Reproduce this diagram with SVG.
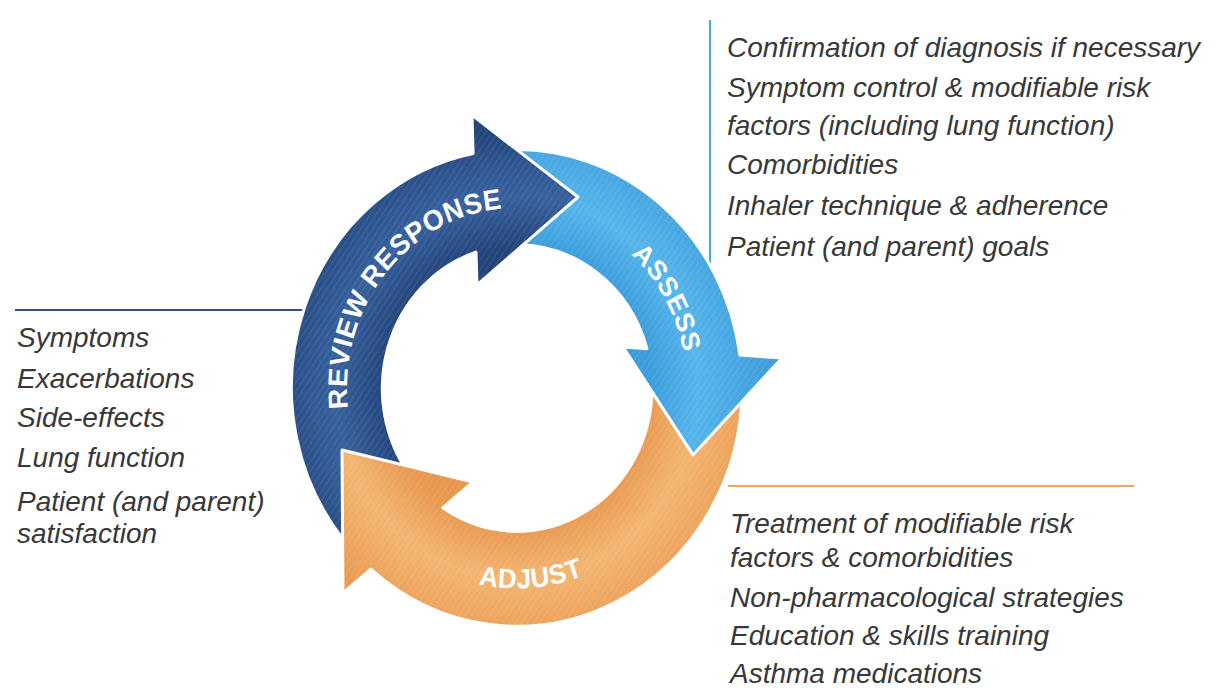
<svg xmlns="http://www.w3.org/2000/svg" xmlns:xlink="http://www.w3.org/1999/xlink" width="1217" height="691" viewBox="0 0 1217 691">
<style>
.note{font-family:"Liberation Sans",Arial,sans-serif;font-style:italic;font-size:28px;fill:#383838}
.lbl{font-family:"Liberation Sans",Arial,sans-serif;font-weight:bold;fill:#ffffff}
.arrow{stroke:#ffffff;stroke-width:3;stroke-linejoin:round}
.review{fill:url(#gReview)}
.assess{fill:url(#gAssess)}
.adjust{fill:url(#gAdjust)}
.tex{fill:url(#stripes)}
</style>
<defs>
<radialGradient id="gReview" gradientUnits="userSpaceOnUse" cx="0" cy="0" r="265">
<stop offset="0" stop-color="#1e3d6e"/>
<stop offset="0.5" stop-color="#22447a"/>
<stop offset="0.68" stop-color="#36609c"/>
<stop offset="0.8" stop-color="#2e5590"/>
<stop offset="0.9" stop-color="#234679"/>
<stop offset="1" stop-color="#1f3e70"/>
</radialGradient>
<radialGradient id="gAssess" gradientUnits="userSpaceOnUse" cx="0" cy="0" r="265">
<stop offset="0" stop-color="#3596d6"/>
<stop offset="0.5" stop-color="#3a9cdb"/>
<stop offset="0.68" stop-color="#55b5ea"/>
<stop offset="0.8" stop-color="#4aaae3"/>
<stop offset="1" stop-color="#3c98d8"/>
</radialGradient>
<radialGradient id="gAdjust" gradientUnits="userSpaceOnUse" cx="0" cy="0" r="265">
<stop offset="0" stop-color="#e49048"/>
<stop offset="0.5" stop-color="#e8994f"/>
<stop offset="0.68" stop-color="#f3b572"/>
<stop offset="0.8" stop-color="#efa862"/>
<stop offset="1" stop-color="#e59550"/>
</radialGradient>
<pattern id="stripes" patternUnits="userSpaceOnUse" width="5" height="5" patternTransform="rotate(35)">
<rect x="0" y="0" width="1.4" height="5" fill="#ffffff" fill-opacity="0.08"/>
</pattern>
<path id="shReview" d="M -172.4 144.6 A 225 225 0 0 1 -43.9 -221.4 L -45 -257.5 L 61 -180.2 L -40 -97.2 L -41 -128.1 A 135 135 0 0 0 -103.4 86.8 Z"/>
<path id="shAssess" d="M -7.85 -224.9 A 225 225 0 0 1 222.9 -31.1 L 265 -28.3 L 176 63.2 L 106 -38.7 L 129.9 -37.1 A 135 135 0 0 0 -4.7 -134.9 Z"/>
<path id="shAdjust" d="M 224.9 -7.85 A 225 225 0 0 1 -146.1 170.9 L -174 193.4 L -175 58.5 L -44 88.7 L -74.2 113 A 135 135 0 0 0 134.9 -4.7 Z"/>
<path id="tpReview" d="M -159.75 58.14 A 170 170 0 0 1 25.1 -168.1"/>
<path id="tpAssess" d="M 31 -167.2 A 170 170 0 0 1 159.2 59.5"/>
<path id="tpAdjust" d="M -64.6 177.6 A 189 189 0 0 0 91.6 165.3"/>
<clipPath id="clipHead" clipPathUnits="userSpaceOnUse">
<rect x="-270" y="40" width="240" height="260"/>
</clipPath>
</defs>
<rect x="0" y="0" width="1217" height="691" fill="#ffffff"/>
<g id="connectors" fill="none" stroke-width="2">
<line x1="15" y1="310" x2="312" y2="310" stroke="#2f4f80"/>
<line x1="710" y1="20" x2="710" y2="264" stroke="#4aa6d2"/>
<line x1="728" y1="486" x2="1134" y2="486" stroke="#eaa85f"/>
</g>
<g id="cycle" transform="translate(517,388) scale(1,1.06)">
<g id="node-adjust">
<use href="#shAdjust" class="arrow adjust"/>
<use href="#shAdjust" class="tex"/>
</g>
<g id="node-assess">
<use href="#shAssess" class="arrow assess"/>
<use href="#shAssess" class="tex"/>
<text class="lbl" font-size="26" letter-spacing="0.5"><textPath href="#tpAssess" startOffset="50%" text-anchor="middle">ASSESS</textPath></text>
</g>
<g id="node-review">
<use href="#shReview" class="arrow review"/>
<use href="#shReview" class="tex"/>
<text class="lbl" font-size="27" letter-spacing="0.5"><textPath href="#tpReview" startOffset="50%" text-anchor="middle">REVIEW RESPONSE</textPath></text>
</g>
<g id="node-adjust-head">
<g clip-path="url(#clipHead)">
<use href="#shAdjust" class="arrow adjust"/>
<use href="#shAdjust" class="tex"/>
</g>
<text class="lbl" font-size="26" letter-spacing="0.5"><textPath href="#tpAdjust" startOffset="50%" text-anchor="middle">ADJUST</textPath></text>
</g>
</g>
<g id="notes-review">
<text class="note" x="17" y="347">Symptoms</text>
<text class="note" x="17" y="388">Exacerbations</text>
<text class="note" x="17" y="427">Side-effects</text>
<text class="note" x="17" y="467">Lung function</text>
<text class="note" x="17" y="511">Patient (and parent)</text>
<text class="note" x="17" y="543">satisfaction</text>
</g>
<g id="notes-assess">
<text class="note" x="727" y="57">Confirmation of diagnosis if necessary</text>
<text class="note" x="727" y="97">Symptom  control &amp; modifiable risk</text>
<text class="note" x="727" y="135">factors (including lung function)</text>
<text class="note" x="727" y="174">Comorbidities</text>
<text class="note" x="727" y="215">Inhaler technique &amp; adherence</text>
<text class="note" x="727" y="256">Patient (and parent) goals</text>
</g>
<g id="notes-adjust">
<text class="note" x="730" y="533">Treatment of modifiable risk</text>
<text class="note" x="730" y="567">factors &amp; comorbidities</text>
<text class="note" x="730" y="607">Non-pharmacological strategies</text>
<text class="note" x="730" y="645">Education &amp; skills training</text>
<text class="note" x="730" y="683">Asthma medications</text>
</g>
</svg>
